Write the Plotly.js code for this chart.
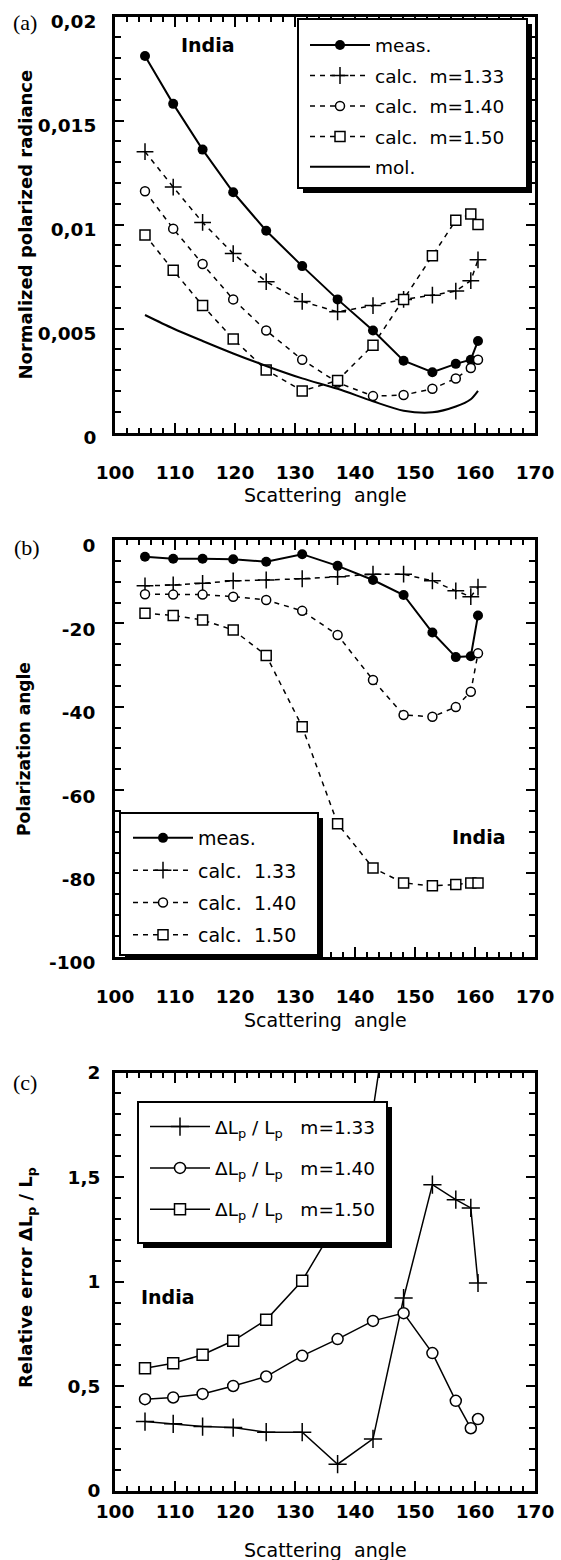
<!DOCTYPE html>
<html>
<head>
<meta charset="utf-8">
<script src="https://cdn.plot.ly/plotly-3.0.1.min.js"></script>
<style>
  html, body { margin: 0; padding: 0; background: #fff; }
  #chart { width: 561px; height: 1560px; }
</style>
</head>
<body>
<div id="chart"></div>
<script>
// Scattering angles shared by every series (degrees)
const angles = [105, 109.7, 114.6, 119.7, 125.2, 131.2, 137.1, 143.0, 148.1, 152.9, 156.8, 159.3, 160.5];

// (a) Normalized polarized radiance
const radMeas    = [0.0181, 0.0158, 0.0136, 0.01155, 0.0097, 0.0080, 0.0064, 0.0049, 0.00345, 0.0029, 0.0033, 0.0035, 0.0044];
const radCalc133 = [0.0135, 0.0118, 0.0101, 0.0086, 0.00725, 0.0063, 0.0058, 0.0061, 0.0064, 0.0066, 0.0068, 0.0073, 0.0083];
const radCalc140 = [0.0116, 0.0098, 0.0081, 0.0064, 0.0049, 0.0035, 0.0024, 0.00175, 0.0018, 0.0021, 0.0026, 0.0031, 0.0035];
const radCalc150 = [0.0095, 0.0078, 0.0061, 0.0045, 0.0030, 0.0020, 0.0025, 0.0042, 0.0064, 0.0085, 0.0102, 0.0105, 0.0100];
const radMol     = [0.00565, 0.0050, 0.0044, 0.0038, 0.0032, 0.0026, 0.0021, 0.0015, 0.00105, 0.00097, 0.00125, 0.0016, 0.0020];

// (b) Polarization angle
const polMeas    = [-4.0, -4.5, -4.5, -4.6, -5.2, -3.4, -6.2, -9.6, -13.2, -22.2, -28.1, -27.9, -18.1];
const polCalc133 = [-11.0, -10.8, -10.4, -9.8, -9.6, -9.3, -8.8, -8.2, -8.2, -9.8, -12.2, -13.6, -11.3];
const polCalc140 = [-13.0, -13.1, -13.1, -13.6, -14.4, -17.0, -22.8, -33.6, -42.0, -42.4, -40.1, -36.4, -27.2];
const polCalc150 = [-17.6, -18.1, -19.2, -21.6, -27.7, -44.8, -68.1, -78.7, -82.3, -83.0, -82.7, -82.3, -82.3];

// (c) Relative error of the polarized radiance
const errCalc133 = [0.332, 0.321, 0.308, 0.303, 0.281, 0.281, 0.128, 0.249, 0.922, 1.464, 1.392, 1.353, 0.994];
const errCalc140 = [0.439, 0.447, 0.464, 0.502, 0.547, 0.646, 0.726, 0.813, 0.850, 0.659, 0.431, 0.300, 0.344];
const errCalc150 = [0.587, 0.611, 0.651, 0.718, 0.818, 1.005, 1.29, 1.82, 2.8, null, null, null, null];

// Tick labels
const xTickVals = [100, 110, 120, 130, 140, 150, 160, 170];
const xTickText = ['100', '110', '120', '130', '140', '150', '160', '170'];
const yTickValsA = [0, 0.005, 0.01, 0.015, 0.02];
const yTickTextA = ['0', '0,005', '0,01', '0,015', '0,02'];
const yTickValsB = [0, -20, -40, -60, -80, -100];
const yTickTextB = ['0', '-20', '-40', '-60', '-80', '-100'];
const yTickValsC = [0, 0.5, 1, 1.5, 2];
const yTickTextC = ['0', '0,5', '1', '1,5', '2'];

// Legend entries
const namesA = ['meas.', 'calc.\u00a0 m=1.33', 'calc.\u00a0 m=1.40', 'calc.\u00a0 m=1.50', 'mol.'];
const namesB = ['meas.', 'calc.\u00a0 1.33', 'calc.\u00a0 1.40', 'calc.\u00a0 1.50'];
const namesC = [
  '\u0394L<sub>p</sub> / L<sub>p</sub>\u00a0\u00a0 m=1.33',
  '\u0394L<sub>p</sub> / L<sub>p</sub>\u00a0\u00a0 m=1.40',
  '\u0394L<sub>p</sub> / L<sub>p</sub>\u00a0\u00a0 m=1.50'
];

const W = 561, H = 1560;
const px = v => v / W;          // pixel column -> paper x
const py = v => 1 - v / H;      // pixel row -> paper y

const SANS = 'DejaVu Sans';
const SERIF = 'Liberation Serif';
const BLACK = '#000';

const DASH = '5px,5px';

function measTrace(y, name, xa, ya, lg, grp) {
  return { x: angles, y: y, name: name, type: 'scatter', mode: 'lines+markers',
    xaxis: xa, yaxis: ya, legend: lg, legendgroup: grp,
    line: { color: BLACK, width: 2 },
    marker: { symbol: 'circle', size: 10, color: BLACK } };
}
function calcTrace(y, name, symbol, size, xa, ya, lg, grp, dash, lw) {
  const filled = symbol === 'circle' || symbol === 'square';
  return { x: angles, y: y, name: name, type: 'scatter', mode: 'lines+markers',
    xaxis: xa, yaxis: ya, legend: lg, legendgroup: grp,
    line: { color: BLACK, width: lw || 1.5, dash: dash || 'solid' },
    marker: { symbol: symbol, size: size, color: filled ? '#fff' : BLACK,
      line: { color: BLACK, width: 1.5 } } };
}

const traces = [
  // (a)
  measTrace(radMeas, namesA[0], 'x', 'y', 'legend', 'a0'),
  calcTrace(radCalc133, namesA[1], 'cross-thin-open', 12, 'x', 'y', 'legend', 'a1', DASH),
  calcTrace(radCalc140, namesA[2], 'circle', 9, 'x', 'y', 'legend', 'a2', DASH),
  calcTrace(radCalc150, namesA[3], 'square', 10, 'x', 'y', 'legend', 'a3', DASH),
  { x: angles, y: radMol, name: namesA[4], type: 'scatter', mode: 'lines',
    xaxis: 'x', yaxis: 'y', legend: 'legend', legendgroup: 'a4',
    line: { color: BLACK, width: 2, shape: 'spline', smoothing: 0.8 } },
  // (b)
  measTrace(polMeas, namesB[0], 'x2', 'y2', 'legend2', 'b0'),
  calcTrace(polCalc133, namesB[1], 'cross-thin-open', 12, 'x2', 'y2', 'legend2', 'b1', DASH),
  calcTrace(polCalc140, namesB[2], 'circle', 9, 'x2', 'y2', 'legend2', 'b2', DASH),
  calcTrace(polCalc150, namesB[3], 'square', 10, 'x2', 'y2', 'legend2', 'b3', DASH),
  // (c)
  calcTrace(errCalc133, namesC[0], 'cross-thin-open', 13, 'x3', 'y3', 'legend3', 'c0', 'solid', 1.5),
  calcTrace(errCalc140, namesC[1], 'circle', 11, 'x3', 'y3', 'legend3', 'c1', 'solid', 1.5),
  calcTrace(errCalc150, namesC[2], 'square', 11, 'x3', 'y3', 'legend3', 'c2', 'solid', 1.5)
];

// Frame: left 115, right 535 (px); panel tops/bottoms in px
const FRAME_L = 115, FRAME_R = 535;
const panels = {
  a: { top: 16.5, bottom: 432.5 },
  b: { top: 540, bottom: 956.7 },
  c: { top: 1072.5, bottom: 1491 }
};

const tickFont = { family: SANS, size: 18.5, color: BLACK, weight: 'bold' };

function xAxis(anchor, standoff) {
  return {
    anchor: anchor, domain: [px(FRAME_L), px(FRAME_R)], range: [100, 170],
    tickmode: 'array', tickvals: xTickVals, ticktext: xTickText,
    ticks: 'inside', ticklen: 10, tickwidth: 2, tickcolor: BLACK,
    minor: { tickmode: 'linear', tick0: 100, dtick: 2, ticks: 'inside', ticklen: 5, tickwidth: 2, tickcolor: BLACK, showgrid: false },
    showline: true, linewidth: 3, linecolor: BLACK, mirror: 'ticks',
    showgrid: false, zeroline: false, fixedrange: true,
    tickfont: tickFont, ticklabelstandoff: standoff
  };
}
function yAxis(anchor, p, range, vals, text, minorDtick, standoff, shift) {
  return {
    anchor: anchor, domain: [py(p.bottom), py(p.top)], range: range,
    tickmode: 'array', tickvals: vals, ticktext: text,
    ticks: 'inside', ticklen: 9, tickwidth: 2, tickcolor: BLACK,
    minor: { tickmode: 'linear', tick0: 0, dtick: minorDtick, ticks: 'inside', ticklen: 6, tickwidth: 2, tickcolor: BLACK, showgrid: false },
    showline: true, linewidth: 3, linecolor: BLACK, mirror: 'ticks',
    showgrid: false, zeroline: false, fixedrange: true,
    tickfont: tickFont, ticklabelstandoff: standoff, ticklabelshift: shift
  };
}

// Legend boxes with a drop shadow (px: left, top, right, bottom)
const legendBoxes = [
  [298, 19, 527, 188],
  [120, 813, 318, 955],
  [138, 1102, 387, 1243]
];
const SHADOW = 5;
const shapes = [];
legendBoxes.forEach(b => {
  shapes.push({ type: 'rect', xref: 'paper', yref: 'paper', layer: 'above',
    x0: px(b[0] + SHADOW), x1: px(b[2] + SHADOW), y0: py(b[3] + SHADOW), y1: py(b[1] + SHADOW),
    fillcolor: BLACK, line: { width: 0 } });
  shapes.push({ type: 'rect', xref: 'paper', yref: 'paper', layer: 'above',
    x0: px(b[0]), x1: px(b[2]), y0: py(b[3]), y1: py(b[1]),
    fillcolor: '#fff', line: { color: BLACK, width: 2 } });
});

function legend(xpx, ypx, size, gap) {
  return { x: px(xpx), y: py(ypx), xanchor: 'left', yanchor: 'top', xref: 'paper', yref: 'paper',
    bgcolor: 'rgba(0,0,0,0)', borderwidth: 0, traceorder: 'grouped', tracegroupgap: gap,
    itemwidth: 60, itemclick: false, itemdoubleclick: false,
    font: { family: SANS, size: size, color: BLACK } };
}

function ann(text, xpx, ypx, font, extra) {
  return Object.assign({ text: text, x: px(xpx), y: py(ypx), xref: 'paper', yref: 'paper',
    xanchor: 'center', yanchor: 'middle', showarrow: false, font: font }, extra || {});
}

const panelFont = { family: SERIF, size: 22, color: BLACK };
const indiaFont = { family: SANS, size: 19, color: BLACK, weight: 'bold' };
const xTitleFont = { family: SANS, size: 19, color: BLACK };
const yTitleFont = { family: SANS, size: 18, color: BLACK, weight: 'bold' };
const xTitle = 'Scattering\u00a0 angle';

const annotations = [
  ann('(a)', 25, 23, panelFont),
  ann('(b)', 27, 547, panelFont),
  ann('(c)', 25, 1082, panelFont),
  ann('India', 208, 45, indiaFont),
  ann('India', 479, 837, indiaFont),
  ann('India', 168, 1297, indiaFont),
  ann(xTitle, 325, 495, xTitleFont),
  ann(xTitle, 325, 1020, xTitleFont),
  ann(xTitle, 325, 1550, xTitleFont),
  ann('Normalized polarized radiance', 25, 224.5, yTitleFont, { textangle: -90 }),
  ann('Polarization angle', 24, 749, { family: SANS, size: 17, color: BLACK, weight: 'bold' }, { textangle: -90 }),
  ann('Relative error \u0394L<sub>p</sub> / L<sub>p</sub>', 27, 1278, yTitleFont, { textangle: -90 })
];

const layout = {
  width: W, height: H,
  margin: { l: 0, r: 0, t: 0, b: 0, pad: 0 },
  paper_bgcolor: '#fff', plot_bgcolor: '#fff',
  font: { family: SANS, color: BLACK },
  showlegend: true,
  xaxis: xAxis('y', 21),
  yaxis: yAxis('x', panels.a, [0, 0.02], yTickValsA, yTickTextA, 0.001, 12, 5),
  xaxis2: xAxis('y2', 21),
  yaxis2: yAxis('x2', panels.b, [-100, 0], yTickValsB, yTickTextB, 5, 13, 6),
  xaxis3: xAxis('y3', 2),
  yaxis3: yAxis('x3', panels.c, [0, 2], yTickValsC, yTickTextC, 0.1, 8, 0),
  legend: legend(305, 26.5, 18.5, 3.4),
  legend2: legend(128, 819, 19, 4.6),
  legend3: legend(145, 1108, 18.5, 14.3),
  shapes: shapes,
  annotations: annotations
};

Plotly.newPlot('chart', traces, layout, { displayModeBar: false, staticPlot: true });
</script>
</body>
</html>
